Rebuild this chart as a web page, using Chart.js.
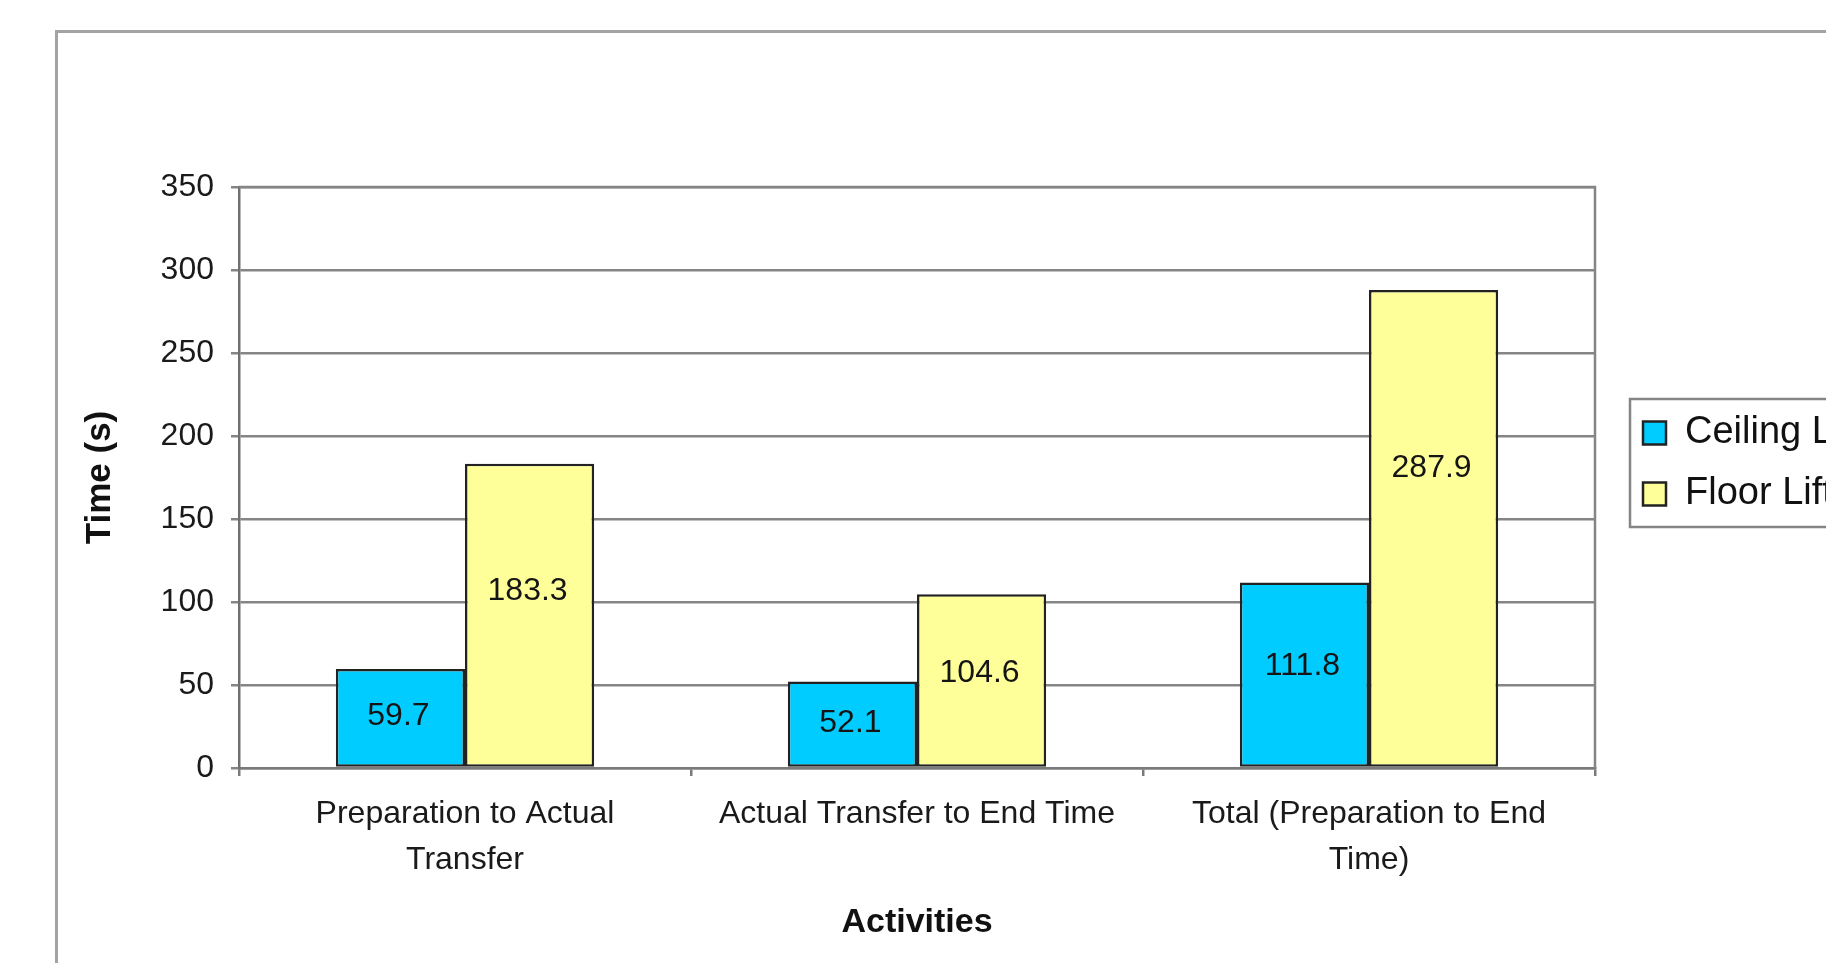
<!DOCTYPE html>
<html>
<head>
<meta charset="utf-8">
<script src="https://cdn.jsdelivr.net/npm/chart.js@4.4.1/dist/chart.umd.min.js"></script>
<style>
  html, body { margin: 0; padding: 0; background: #fff; overflow: hidden; }
  #frame { position: absolute; left: 55px; top: 30px; width: 2000px; height: 2000px;
           border: 3px solid #a3a3a3; box-sizing: border-box; }
  #chart { position: absolute; left: 0; top: 0; }
</style>
</head>
<body>
<div id="frame"></div>
<canvas id="chart" width="1826" height="963"></canvas>
<script>
// categories and series
const categories = [
  ["Preparation to Actual", "Transfer"],
  ["Actual Transfer to End Time"],
  ["Total (Preparation to End", "Time)"]
];
const seriesNames = ["Ceiling Lift", "Floor Lift"];
const ceilingLift = [59.7, 52.1, 111.8];
const floorLift = [183.3, 104.6, 287.9];
const yMin = 0, yMax = 350, yStep = 50;

Chart.defaults.font.family = "'Liberation Sans', Arial, sans-serif";
Chart.defaults.color = "#1a1a1a";

// white legend box with a grey border, behind the legend
const legendBox = {
  id: 'legendBox',
  afterLayout(chart) {
    const lg = chart.legend;
    const w = lg.width, h = lg.height;
    lg.left = chart.chartArea.right + 25;
    lg.top = 391;
    lg.right = lg.left + w;
    lg.bottom = lg.top + h;
  },
  beforeDraw(chart) {
    const ctx = chart.ctx;
    ctx.save();
    ctx.fillStyle = '#fff';
    ctx.strokeStyle = '#858585';
    ctx.lineWidth = 2.5;
    ctx.fillRect(chart.chartArea.right + 35, 399, 400, 128);
    ctx.strokeRect(chart.chartArea.right + 35, 399, 400, 128);
    ctx.restore();
  }
};

// grey border round the plot area
const plotBorder = {
  id: 'plotBorder',
  beforeDatasetsDraw(chart) {
    const {ctx, chartArea: a} = chart;
    ctx.save();
    ctx.strokeStyle = '#858585';
    ctx.lineWidth = 2.5;
    ctx.beginPath();
    ctx.moveTo(a.left, a.top);
    ctx.lineTo(a.right, a.top);
    ctx.lineTo(a.right, a.bottom);
    ctx.stroke();
    ctx.restore();
  }
};

// value labels inside the bars
const barLabels = {
  id: 'barLabels',
  afterDatasetsDraw(chart) {
    const ctx = chart.ctx;
    const y = chart.scales.y;
    ctx.save();
    ctx.font = "32px 'Liberation Sans', Arial, sans-serif";
    ctx.fillStyle = '#151515';
    ctx.textAlign = 'center';
    ctx.textBaseline = 'middle';
    chart.data.datasets.forEach((ds, i) => {
      chart.getDatasetMeta(i).data.forEach((bar, j) => {
        const v = ds.data[j];
        const at = v / 2 + v * v * 0.00044;
        ctx.fillText(v.toFixed(1), bar.x - 2, y.getPixelForValue(at));
      });
    });
    ctx.restore();
  }
};

const data = {
  labels: categories,
  datasets: [
    {
      label: seriesNames[0],
      data: ceilingLift,
      backgroundColor: '#00CCFF',
      borderColor: '#222',
      borderWidth: 2.5,
      borderSkipped: false
    },
    {
      label: seriesNames[1],
      data: floorLift,
      backgroundColor: '#FFFF99',
      borderColor: '#222',
      borderWidth: 2.5,
      borderSkipped: false
    }
  ]
};

const config = {
  type: 'bar',
  data,
  options: {
    responsive: false,
    animation: false,
    layout: { padding: { top: 187, right: 231, bottom: 0, left: 0 } },
    datasets: { bar: { categoryPercentage: 2 / 3.5, barPercentage: 1 } },
    plugins: {
      legend: {
        position: 'chartArea',
        align: 'start',
        labels: {
          font: { size: 38 },
          color: '#111',
          boxWidth: 23,
          boxHeight: 23,
          padding: 23
        }
      },
      tooltip: { enabled: false }
    },
    scales: {
      x: {
        grid: { offset: true, drawOnChartArea: false, color: '#7a7a7a', lineWidth: 2.5, tickLength: 8 },
        border: { color: '#7a7a7a', width: 2.5 },
        ticks: { font: { size: 32, lineHeight: 1.44 }, color: '#1a1a1a', padding: 15, maxRotation: 0, autoSkip: false },
        title: {
          display: true,
          text: 'Activities',
          font: { size: 34, weight: 'bold' },
          color: '#111',
          padding: { top: 0, bottom: 20 }
        },
        afterFit(s) { s.height = 963 - 768; }
      },
      y: {
        min: yMin,
        max: yMax,
        ticks: { stepSize: yStep, font: { size: 32 }, color: '#1a1a1a', padding: 17 },
        grid: { color: '#858585', lineWidth: 2.5, tickLength: 8 },
        border: { color: '#707070', width: 2.5 },
        title: {
          display: true,
          text: 'Time (s)',
          font: { size: 35, weight: 'bold' },
          color: '#111',
          padding: { top: 79, bottom: 0 }
        },
        afterFit(s) { s.width = 239; }
      }
    }
  },
  plugins: [legendBox, plotBorder, barLabels]
};

new Chart(document.getElementById('chart'), config);
</script>
</body>
</html>
